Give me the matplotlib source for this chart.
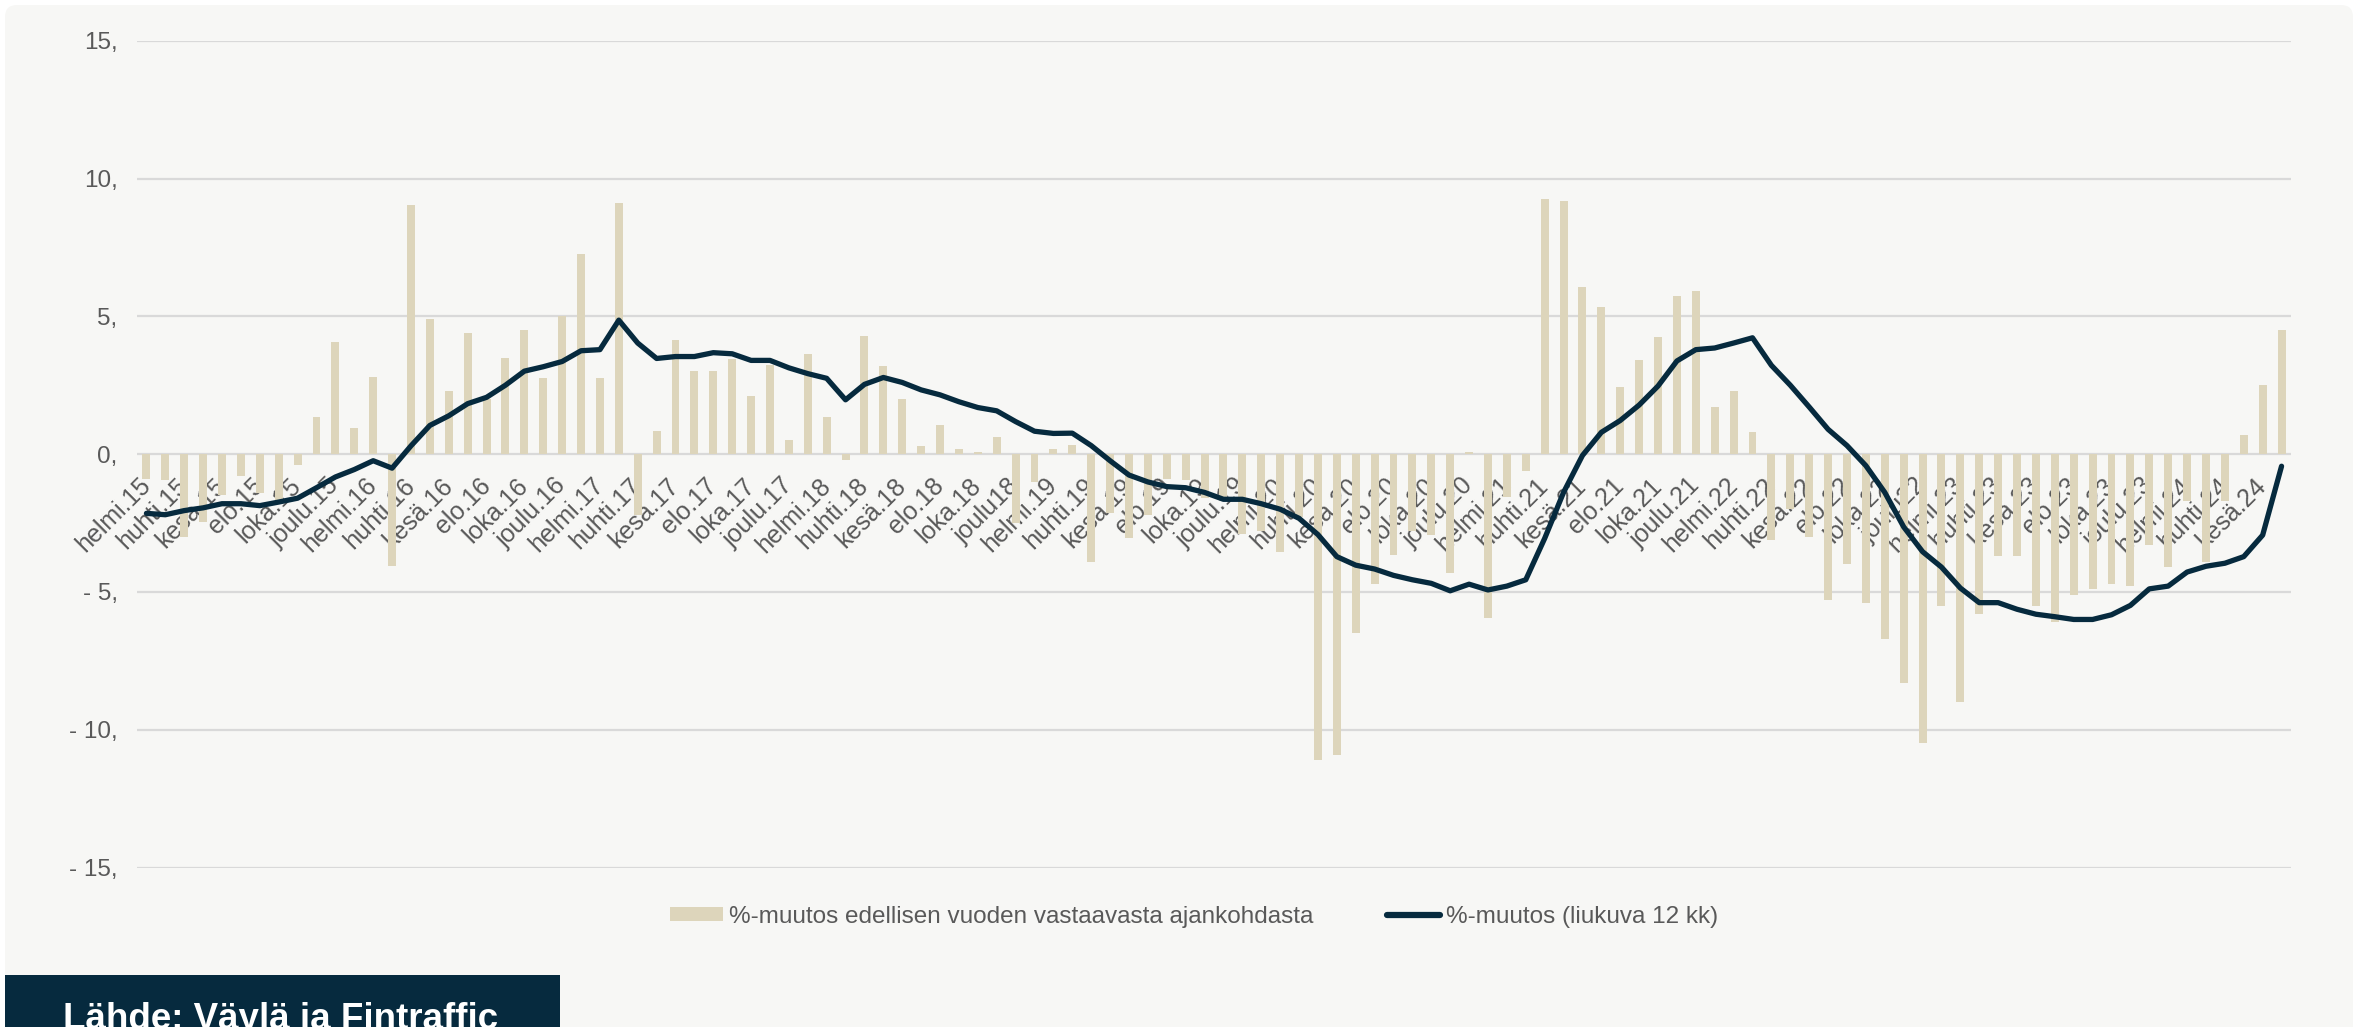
import matplotlib
matplotlib.use('Agg')
import matplotlib.pyplot as plt
from matplotlib.patches import FancyBboxPatch, Rectangle, Patch
from matplotlib.lines import Line2D
from matplotlib.transforms import IdentityTransform
import numpy as np

plt.rcParams['font.family'] = ['Liberation Sans', 'DejaVu Sans']

# ---------------- data ----------------
tick_labels = [
    'helmi.15', 'huhti.15', 'kesä.15', 'elo.15', 'loka.15', 'joulu.15',
    'helmi.16', 'huhti.16', 'kesä.16', 'elo.16', 'loka.16', 'joulu.16',
    'helmi.17', 'huhti.17', 'kesä.17', 'elo.17', 'loka.17', 'joulu.17',
    'helmi.18', 'huhti.18', 'kesä.18', 'elo.18', 'loka.18', 'joulu18',
    'helmi.19', 'huhti.19', 'kesä.19', 'elo.19', 'loka.19', 'joulu.19',
    'helmi.20', 'huhti.20', 'kesä.20', 'elo.20', 'loka.20', 'joulu.20',
    'helmi.21', 'huhti.21', 'kesä.21', 'elo.21', 'loka.21', 'joulu.21',
    'helmi.22', 'huhti.22', 'kesä.22', 'elo.22', 'loka.22', 'joulu22',
    'helmi 23', 'huhti 23', 'kesä 23', 'elo.23', 'loka.23', 'joulu.23',
    'helmi.24', 'huhti.24', 'kesä.24',
]

# %-muutos edellisen vuoden vastaavasta ajankohdasta (monthly, helmi.15 ->)
yoy_change = [
    -0.9, -0.95, -3.0, -2.45, -1.5, -0.8, -1.4, -1.8, -0.4, 1.35,
    4.05, 0.95, 2.8, -4.05, 9.05, 4.9, 2.3, 4.4, 2.0, 3.5,
    4.5, 2.75, 5.0, 7.25, 2.75, 9.1, -2.2, 0.85, 4.15, 3.0,
    3.0, 3.45, 2.1, 3.25, 0.5, 3.65, 1.35, -0.2, 4.3, 3.2,
    2.0, 0.3, 1.05, 0.2, 0.08, 0.62, -2.5, -1.0, 0.2, 0.32,
    -3.9, -2.15, -3.05, -2.2, -0.9, -0.95, -1.6, -1.7, -2.9, -2.8,
    -3.55, -2.3, -11.1, -10.9, -6.5, -4.7, -3.65, -2.8, -2.95, -4.3,
    0.07, -5.95, -1.55, -0.63, 9.25, 9.2, 6.05, 5.35, 2.45, 3.4,
    4.25, 5.75, 5.9, 1.7, 2.3, 0.8, -3.1, -2.0, -3.0, -5.3,
    -4.0, -5.4, -6.7, -8.3, -10.5, -5.5, -9.0, -5.8, -3.7, -3.7,
    -5.5, -6.1, -5.1, -4.9, -4.7, -4.8, -3.3, -4.1, -1.7, -3.9,
    -1.7, 0.7, 2.5, 4.5,
]

# %-muutos (liukuva 12 kk)
rolling_12m = [
    -2.15, -2.2, -2.05, -1.95, -1.8, -1.8, -1.87, -1.74, -1.6, -1.22,
    -0.83, -0.56, -0.24, -0.51, 0.3, 1.04, 1.39, 1.83, 2.06, 2.5,
    3.01, 3.17, 3.36, 3.75, 3.79, 4.86, 4.03, 3.47, 3.54, 3.54,
    3.68, 3.64, 3.40, 3.40, 3.13, 2.92, 2.75, 1.97, 2.53, 2.78,
    2.6, 2.33, 2.15, 1.9, 1.69, 1.57, 1.18, 0.83, 0.75, 0.76,
    0.31, -0.24, -0.76, -1.01, -1.18, -1.22, -1.39, -1.64, -1.64, -1.8,
    -2.0, -2.33, -2.92, -3.72, -4.03, -4.17, -4.4, -4.56, -4.69, -4.96,
    -4.72, -4.93, -4.79, -4.56, -3.06, -1.39, -0.05, 0.79, 1.22, 1.78,
    2.47, 3.38, 3.79, 3.85, 4.03, 4.22, 3.22, 2.5, 1.71, 0.9,
    0.31, -0.42, -1.39, -2.64, -3.54, -4.1, -4.86, -5.39, -5.39, -5.63,
    -5.81, -5.9, -6.0, -6.0, -5.83, -5.49, -4.89, -4.79, -4.28, -4.07,
    -3.96, -3.72, -2.94, -0.44,
]

y_ticks = [-15, -10, -5, 0, 5, 10, 15]
y_tick_labels = ['- 15,', '- 10,', '- 5,', '0,', '5,', '10,', '15,']

legend_labels = ['%-muutos edellisen vuoden vastaavasta ajankohdasta',
                 '%-muutos (liukuva 12 kk)']
source_text = 'Lähde: Väylä ja Fintraffic'

# ---------------- style ----------------
W, H = 2362, 1027
BAR_C = '#ddd5bb'
LINE_C = '#062a3e'
TXT_C = '#595959'
GRID_C = '#d9d9d9'
PANEL_C = '#f7f7f5'
FS = 17.5

fig = plt.figure(figsize=(W / 100, H / 100), dpi=100, facecolor='white')

panel = FancyBboxPatch((5, -30), 2348, H - 5 + 30,
                       boxstyle='round,pad=0,rounding_size=12',
                       transform=IdentityTransform(), facecolor=PANEL_C,
                       edgecolor='none', zorder=0)
fig.add_artist(panel)

ax = fig.add_axes([137 / W, 1 - 867.5 / H, 2154 / W, (867.5 - 40.7) / H])
ax.set_facecolor('none')
# category axis crosses at zero (must be set before tick labels are styled)
ax.spines['bottom'].set_position(('data', 0))
for s in ax.spines.values():
    s.set_color('none')

x = np.arange(len(yoy_change))
ax.bar(x, yoy_change, width=0.42, color=BAR_C, zorder=2)
ax.plot(x, rolling_12m, color=LINE_C, lw=3.8, zorder=3,
        solid_joinstyle='round', solid_capstyle='round')

ax.set_xlim(-0.5, len(yoy_change) - 0.5)
ax.set_ylim(-15, 15)
ax.set_yticks(y_ticks, y_tick_labels)
ax.grid(axis='y', color=GRID_C, lw=1.6, zorder=0)
ax.set_axisbelow(True)
ax.tick_params(axis='y', length=0, pad=14, labelsize=FS, labelcolor=TXT_C)

ax.set_xticks(x[::2])
ax.set_xticklabels(tick_labels)
ax.tick_params(axis='x', length=0, pad=20, labelsize=18, labelcolor=TXT_C)
for lab in ax.get_xticklabels():
    lab.set_rotation(45)
    lab.set_rotation_mode('anchor')
    lab.set_ha('right')
    lab.set_va('center')

handles = [Patch(facecolor=BAR_C, edgecolor='none'),
           Line2D([0], [0], color=LINE_C, lw=4.5, solid_capstyle='round')]
fig.legend(handles, legend_labels, loc='center',
           bbox_to_anchor=(1194 / W, 1 - 917 / H), ncol=2, frameon=False,
           fontsize=FS, labelcolor=TXT_C, handlelength=2.2, handleheight=0.5,
           handletextpad=0.25, columnspacing=3.0)

src_box = Rectangle((5, -5), 555, (H - 975) + 5, transform=IdentityTransform(),
                    facecolor=LINE_C, edgecolor='none', zorder=1)
fig.add_artist(src_box)
fig.text(63 / W, -2 / H, source_text, fontsize=26.5, fontweight='bold',
         color='white', va='baseline', ha='left', zorder=2)

fig.savefig('out.png', dpi=100, facecolor='white')
